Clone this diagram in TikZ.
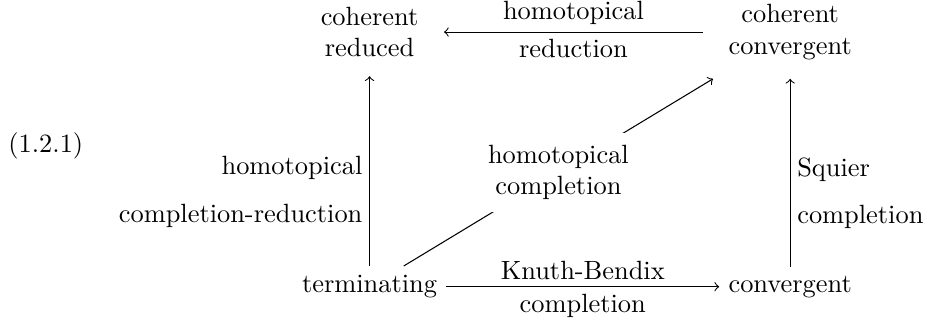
\documentclass[tikz,border=0pt]{standalone}

\begin{document}
\begin{tikzpicture}[
    cell/.style={align=center, inner xsep=9.5pt, inner ysep=7pt},
    lbl/.style={inner sep=2.5pt},
    desc/.style={fill=white, align=center, inner sep=4.5pt}
  ]
    \useasboundingbox (0,0) rectangle (12.315, 4.287);

    \node (eqno) at (0.61, 2.34) {(1.2.1)};

    \node[cell] (cohred) at (4.92, 3.86) {coherent\\reduced};
    \node[cell] (cohconv) at (10.52, 3.86) {coherent\\convergent};
    \node (term) at (4.92, 0.47) {terminating};
    \node (conv) at (10.52, 0.47) {convergent};

    \draw[->] (cohconv) -- node[lbl, above] {homotopical} node[lbl, below] {reduction} (cohred);
    \draw[->] (term) -- node[lbl, above] {Knuth-Bendix} node[lbl, below] {completion} (conv);

    \draw[->] (term) -- node[lbl, left, pos=0.39, align=right] {homotopical\\[6pt]completion-reduction} (cohred);
    \draw[->] (conv) -- node[lbl, right, pos=0.39, align=left] {Squier\\[6pt]completion} (cohconv);

    % diagonal, label sits on the line
    \draw[->] (term) -- node[desc] {homotopical\\completion} (cohconv);
\end{tikzpicture}
\end{document}
